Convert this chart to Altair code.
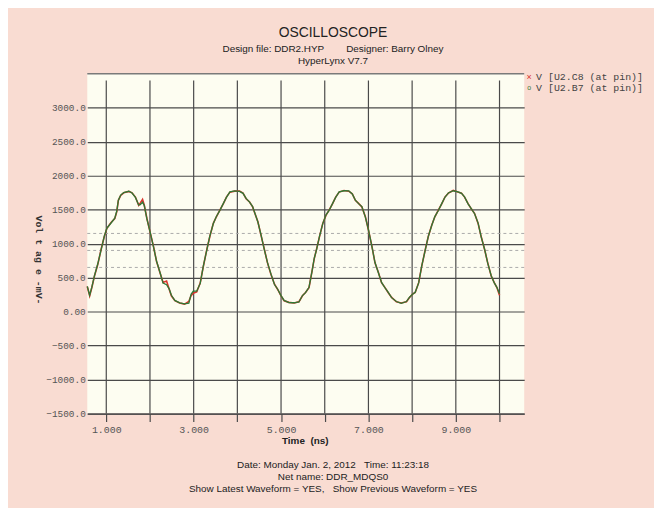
import altair as alt
import pandas as pd

# ---- data ----
time_ns = [0.565, 0.62, 0.67, 0.73, 0.805, 0.88, 0.955, 1.015, 1.105, 1.195, 1.24, 1.277, 1.33, 1.40,
           1.517, 1.59, 1.667, 1.742, 1.78, 1.83, 1.87, 1.93, 2.0, 2.08, 2.15, 2.23, 2.30, 2.38, 2.44,
           2.49, 2.57, 2.68, 2.79, 2.89, 2.94, 2.99, 3.07, 3.15, 3.22, 3.30, 3.37, 3.45, 3.52, 3.60,
           3.68, 3.75, 3.83, 3.94, 4.05, 4.13, 4.20, 4.28, 4.35, 4.39, 4.47, 4.54, 4.62, 4.69, 4.77,
           4.85, 4.92, 5.0, 5.07, 5.18, 5.30, 5.41, 5.49, 5.56, 5.64, 5.71, 5.76, 5.81, 5.88, 5.955,
           6.03, 6.10, 6.18, 6.25, 6.33, 6.44, 6.55, 6.63, 6.70, 6.78, 6.85, 6.93, 7.0, 7.08, 7.15,
           7.23, 7.30, 7.38, 7.45, 7.53, 7.64, 7.75, 7.87, 7.94, 8.01, 8.07, 8.15, 8.22, 8.30, 8.37,
           8.45, 8.52, 8.60, 8.68, 8.75, 8.83, 8.94, 9.05, 9.13, 9.20, 9.28, 9.35, 9.43, 9.51, 9.58,
           9.66, 9.73, 9.81, 9.88, 9.94, 10.0]

v_u2_c8 = [370, 233, 354, 523, 692, 910, 1104, 1225, 1307, 1370, 1467, 1637, 1709, 1748,
           1768, 1748, 1685, 1564, 1600, 1650, 1564, 1370, 1177, 959, 741, 571, 430, 450, 329,
           232, 160, 126, 111, 150, 232, 270, 290, 420, 660, 910, 1104, 1298, 1395, 1492,
           1588, 1685, 1758, 1772, 1772, 1743, 1661, 1613, 1540, 1467, 1322, 1128, 910, 717, 547,
           402, 329, 232, 160, 136, 126, 145, 232, 281, 353, 600, 780, 910, 1104, 1298,
           1419, 1492, 1588, 1685, 1758, 1782, 1772, 1734, 1637, 1588, 1540, 1395, 1201, 959, 717,
           571, 426, 353, 281, 208, 145, 126, 145, 208, 257, 281, 426, 668, 910, 1104,
           1273, 1395, 1492, 1588, 1685, 1743, 1782, 1758, 1743, 1685, 1588, 1516, 1443, 1298, 1104,
           910, 717, 523, 426, 353, 240]

v_u2_b7 = [370, 240, 360, 530, 700, 905, 1110, 1230, 1300, 1375, 1480, 1640, 1715, 1752,
           1770, 1745, 1680, 1570, 1575, 1610, 1560, 1365, 1180, 955, 745, 575, 420, 395, 335,
           240, 165, 130, 115, 125, 255, 300, 300, 415, 665, 905, 1110, 1295, 1400, 1490,
           1592, 1680, 1762, 1775, 1768, 1740, 1665, 1610, 1545, 1470, 1318, 1132, 905, 720, 552,
           398, 333, 236, 164, 132, 130, 142, 236, 278, 358, 596, 785, 905, 1108, 1295,
           1423, 1488, 1592, 1680, 1762, 1778, 1776, 1730, 1640, 1585, 1545, 1390, 1205, 955, 722,
           567, 430, 350, 285, 205, 148, 123, 148, 212, 254, 284, 422, 672, 905, 1108,
           1270, 1398, 1488, 1592, 1682, 1746, 1778, 1762, 1740, 1688, 1585, 1520, 1440, 1302, 1100,
           914, 713, 528, 422, 357, 262]

y_ticks = [3000, 2500, 2000, 1500, 1000, 500, 0, -500, -1000, -1500]
x_ticks = [1, 2, 3, 4, 5, 6, 7, 8, 9, 10]
thresholds = [1150, 900, 650]

NB = "\u00a0"
legend_names = ["V [U2.C8 (at pin)]", "V [U2.B7 (at pin)]"]
header = ["OSCILLOSCOPE",
          "Design file: DDR2.HYP" + NB * 8 + "Designer: Barry Olney",
          "HyperLynx V7.7"]
footer = ["Date: Monday Jan. 2, 2012" + NB * 3 + "Time: 11:23:18",
          "Net name: DDR_MDQS0",
          "Show Latest Waveform = YES," + NB * 3 + "Show Previous Waveform = YES"]

# ---- styling ----
PINK = "#f9dcd2"
CREAM = "#fdfdf1"
GRID = "#4a4a4a"
RED = "#d9342b"
GREEN = "#2c7a35"
MONO = "Liberation Mono"
SANS = "Liberation Sans"

W, H = 441, 343
xs = alt.Scale(domain=[0.565, 10.565], nice=False, zero=False)
ys = alt.Scale(domain=[-1500, 3500], nice=False, zero=False)

df = pd.DataFrame({"t": time_ns, "a": v_u2_c8, "b": v_u2_b7})

y_axis = alt.Axis(values=y_ticks, tickCount=30, grid=True, gridColor=GRID, gridWidth=1.2,
                  ticks=False, domain=False, labelFont=MONO, labelFontSize=9.5, labelColor="#555",
                  labelPadding=2, title=None, labelOverlap=False,
                  labelExpr="datum.value == 0 ? '0.00' : format(datum.value, '.1f')")
x_axis = alt.Axis(values=x_ticks, tickCount=30, grid=False, ticks=True, tickSize=8,
                  tickColor=GRID, tickWidth=1.2, domain=True, domainColor=GRID, domainWidth=1.2,
                  labelFont=MONO, labelFontSize=10, labelColor="#555", labelPadding=3,
                  labelAngle=0, title=None, labelOverlap=False,
                  labelExpr="datum.value % 2 == 1 ? format(datum.value, '.3f') : ''")

base = alt.Chart(df)

red_line = base.mark_line(color=RED, strokeWidth=1.6).encode(
    x=alt.X("t:Q", scale=xs, axis=x_axis),
    y=alt.Y("a:Q", scale=ys, axis=y_axis),
)
green_line = base.mark_line(color=GREEN, strokeWidth=1.3).encode(
    x=alt.X("t:Q", scale=xs),
    y=alt.Y("b:Q", scale=ys),
)

vgrid = alt.Chart(pd.DataFrame({"x": x_ticks})).transform_calculate(
    top="3400", bot="-1500"
).mark_rule(color=GRID, strokeWidth=1.2).encode(
    x=alt.X("x:Q", scale=xs),
    y=alt.Y("top:Q", scale=ys),
    y2="bot:Q",
)

top_line = alt.Chart(pd.DataFrame({"y": [3500]})).mark_rule(color="#7a7a7a", strokeWidth=1.5).encode(
    y=alt.Y("y:Q", scale=ys)
)

thr = alt.Chart(pd.DataFrame({"y": thresholds})).mark_rule(
    color="#aaaaaa", strokeWidth=1, strokeDash=[3, 3]).encode(y=alt.Y("y:Q", scale=ys))


def txt(s, x, y, size=10, font=SANS, weight="normal", color="#222", align="center", angle=0):
    return alt.Chart(pd.DataFrame({"s": [s]})).mark_text(
        font=font, fontSize=size, fontWeight=weight, color=color, align=align,
        baseline="middle", angle=angle).encode(
        text="s:N", x=alt.value(x), y=alt.value(y))


texts = [
    txt(header[0], 248, -41, size=14),
    txt(header[1], 248, -25, size=10),
    txt(header[2], 248, -13, size=10),
    txt("×", 446, 3, size=9, color=RED, font=SANS),
    txt("o", 446, 14, size=7, color=GREEN, font=SANS),
    txt(legend_names[0], 453, 3, size=10, font=MONO, color="#444", align="left"),
    txt(legend_names[1], 453, 14, size=10, font=MONO, color="#444", align="left"),
    txt("Vol t ag e -mV-", -49, 188, size=10, font=MONO, weight="bold", color="#333", angle=90),
    txt("Time" + NB * 2 + "(ns)", 220, 371, size=10, weight="bold"),
    txt(footer[0], 248, 395, size=10),
    txt(footer[1], 248, 407, size=10),
    txt(footer[2], 248, 419, size=10),
]

chart = alt.layer(vgrid, top_line, thr, red_line, green_line, *texts).properties(
    width=W, height=H,
    background=PINK,
    padding={"left": 80, "top": 64, "right": 131, "bottom": 93},
    autosize=alt.AutoSizeParams(type="none"),
).configure_view(fill=CREAM, stroke=None)

chart.save("out.html", embed_options={"renderer": "svg", "actions": False})
